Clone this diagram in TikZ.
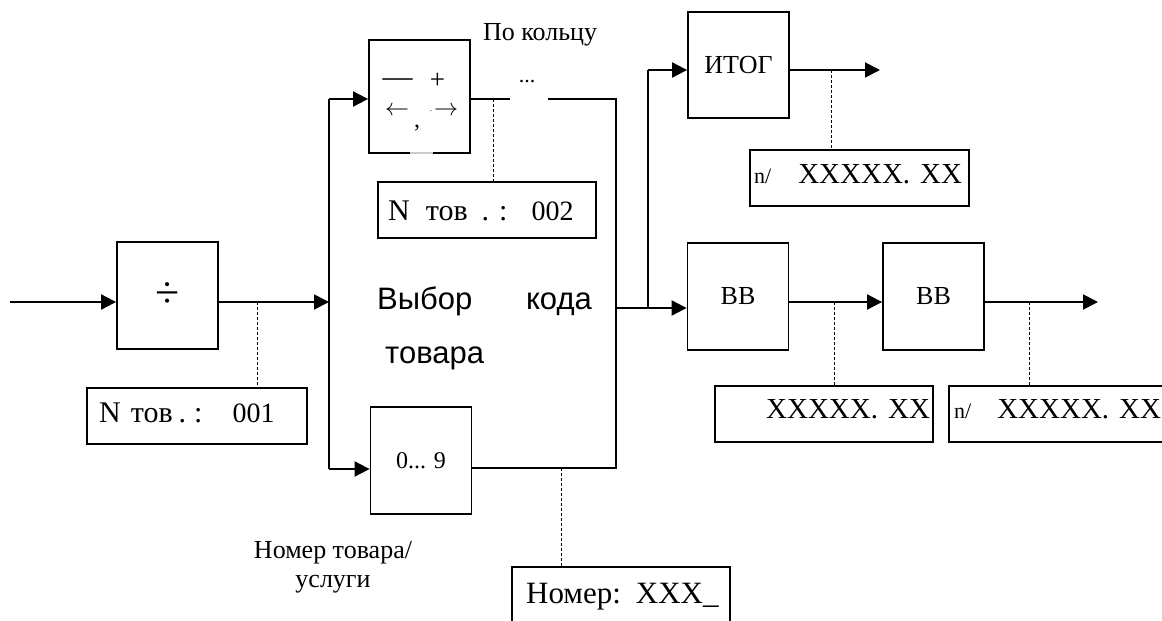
\documentclass[tikz,border=0pt]{standalone}
\usepackage{fontspec}
\setmainfont{Liberation Serif}
\newfontfamily\arialfont{Liberation Sans}
\usetikzlibrary{arrows.meta}

\begin{document}
\begin{tikzpicture}[x=1pt,y=-1pt,
    blk/.style  = {draw, line width=1.8pt, inner sep=0pt,
      minimum width=101pt, font=\fontsize{26}{28}\selectfont},
    disp/.style = {draw, line width=2.3pt, inner xsep=0pt, inner ysep=0pt,
      text width=#1, align=left, text height=34pt, text depth=22pt,
      anchor=north west, font=\fontsize{30}{34}\selectfont},
    note/.style = {font=\fontsize{26}{29}\selectfont, align=center},
    key/.style  = {inner sep=0pt},
    link/.style = {line width=1.9pt},
    arr/.style  = {link, -{Triangle[length=15pt,width=15pt]}},
    tap/.style  = {dash pattern=on 3pt off 2pt, line width=1pt},
    big/.style  = {font=\arialfont\fontsize{31}{34}\selectfont, inner sep=0pt},
  ]
  \clip (0,0) rectangle (1162,621);

  % blocks
  \node[blk, minimum height=107pt] (div)  at (167.5,295.5)
    {\raisebox{-8pt}{\fontsize{44}{44}\selectfont ÷}};
  \node[blk, minimum height=113pt] (pm)   at (419.5,96.5) {};
  \node[blk, minimum height=107pt, font=\fontsize{24}{28}\selectfont] (dig) at (421,460.5) {0... 9};
  \node[blk, minimum height=106pt] (itog) at (738.5,65) {ИТОГ};
  \node[blk, minimum height=107pt] (bbA)  at (738,296.5) {ВВ};
  \node[blk, minimum height=107pt] (bbB)  at (933.5,296.5) {ВВ};

  % keys drawn in the ring block
  \node[key, font=\fontsize{30}{30}\selectfont] (pmdash) at (397.5,83) {—};
  \node[key, font=\fontsize{27}{27}\selectfont] (pmplus) at (437.5,81) {+};
  \node[key] (pmleft)  at (397,111) {\scalebox{2.4}{$\leftarrow$}};
  \node[key] (pmright) at (446,111) {\scalebox{2.4}{$\rightarrow$}};
  \node[key, font=\fontsize{9}{9}\selectfont] (pmdot) at (431,111) {.};
  \node[key, font=\fontsize{24}{24}\selectfont] (pmcomma) at (417,128) {,};
  \draw[gray!40, line width=1.8pt] (410,153) -- (433,153);

  % displays
  \node[disp=220pt] (dA) at (86,387)
    {\hspace*{12pt}N\hspace{10pt}тов\hspace{6pt}.\hspace{8pt}:\hspace{30pt}{\fontsize{28}{30}\selectfont 001}};
  \node[disp=218pt, text height=38pt, text depth=18pt] (dB) at (377,181)
    {\hspace*{10pt}N\hspace{16pt}тов\hspace{14pt}.\hspace{10pt}:\hspace{24pt}{\fontsize{28}{30}\selectfont 002}};
  \node[disp=219pt, text height=33pt, text depth=23pt] (dC) at (749,149)
    {\hspace*{4pt}{\fontsize{22}{30}\selectfont n/}\hspace{27pt}{\fontsize{29}{30}\selectfont XXXXX. XX}};
  \node[disp=218pt, text height=32pt, text depth=24pt] (dD) at (714,385)
    {\hspace*{51pt}{\fontsize{29}{30}\selectfont XXXXX. XX}};
  \node[disp=218pt, text height=32pt, text depth=24pt] (dE) at (948,385)
    {\hspace*{5pt}{\fontsize{22}{30}\selectfont n/}\hspace{26pt}{\fontsize{29}{30}\selectfont XXXXX. XX}};
  \node[disp=218pt, text height=36pt, text depth=34pt] (dF) at (511,566)
    {\hspace*{14pt}{\fontsize{31}{34}\selectfont Номер: XXX\_}};

  % captions
  \node[note] (ring) at (540,35) {По кольцу};
  \node[note] (code) at (333,567) {Номер товара/\\услуги};
  \node[big, anchor=base west] (selA) at (377,309) {Выбор};
  \node[big, anchor=base east] (selB) at (592,309) {кода};
  \node[big, anchor=base west] (selC) at (385,363) {товара};
  \node[key, font=\fontsize{22}{22}\selectfont] (dots) at (527,82) {...};

  % branch points
  \coordinate (in)   at (10,302);
  \coordinate (fork) at (329,302);
  \coordinate (up)   at (329,99);
  \coordinate (down) at (329,469);
  \coordinate (gapL) at (510,99);
  \coordinate (gapR) at (548,99);
  \coordinate (ringE) at (616,99);
  \coordinate (ringB) at (616,468);
  \coordinate (out)  at (616,308);
  \coordinate (sum)  at (648,308);
  \coordinate (sumT) at (648,70);
  \coordinate (endA) at (880,70);
  \coordinate (endB) at (1098,302);

  % connectors
  \draw[arr] (in) -- (in -| div.west);
  \draw[arr] (div.east |- fork) -- (fork);
  \draw[link] (up) -- (down);
  \draw[arr] (up) -- (up -| pm.west);
  \draw[arr] (down) -- (down -| dig.west);
  \draw[link] (pm.east |- gapL) -- (gapL);
  \draw[link] (gapR) -- (ringE) -- (ringB) -- (ringB -| dig.east);
  \draw[link] (out) -- (sum);
  \draw[arr] (sum) -- (sum -| bbA.west);
  \draw[link] (sum) -- (sumT);
  \draw[arr] (sumT) -- (sumT -| itog.west);
  \draw[arr] (itog.east |- endA) -- (endA);
  \draw[arr] (bbA.east |- endB) -- (endB -| bbB.west);
  \draw[arr] (bbB.east |- endB) -- (endB);

  % taps to the displays
  \draw[tap] (257,302) -- (257,387);
  \draw[tap] (493,99) -- (493,181);
  \draw[tap] (561,468) -- (561,566);
  \draw[tap] (831,70) -- (831,149);
  \draw[tap] (834,302) -- (834,385);
  \draw[tap] (1029,302) -- (1029,385);
\end{tikzpicture}
\end{document}
